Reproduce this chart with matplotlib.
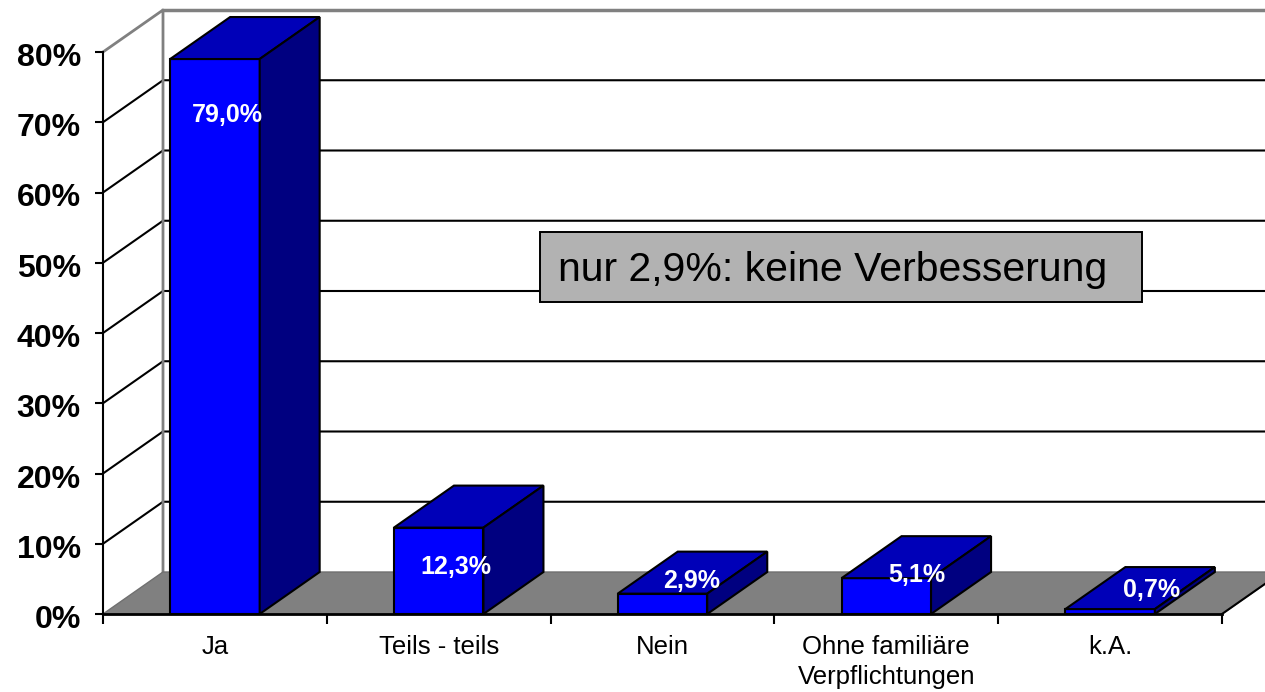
import matplotlib
matplotlib.use("Agg")
import matplotlib.pyplot as plt
from matplotlib.patches import Rectangle
from matplotlib.transforms import ScaledTranslation

plt.rcParams['font.family'] = ['Liberation Sans', 'DejaVu Sans']

# Daten
kategorien = ["Ja", "Teils - teils", "Nein", "Ohne familiäre\nVerpflichtungen", "k.A."]
werte = [79.0, 12.3, 2.9, 5.1, 0.7]
wert_texte = ["79,0%", "12,3%", "2,9%", "5,1%", "0,7%"]
y_ticks = [0, 10, 20, 30, 40, 50, 60, 70, 80]
y_tick_texte = ["0%", "10%", "20%", "30%", "40%", "50%", "60%", "70%", "80%"]
hinweis = "nur 2,9%: keine Verbesserung"

# Layout in Pixeln
W, H = 1265, 692
links, rechts, oben, unten = 103, 1222, 52, 614
tiefe_x_px, tiefe_y_px = 60, 42
label_versatz = [(12, -56), (17, -39), (29, 13), (31, 3), (41, 19)]

fig = plt.figure(figsize=(W / 100, H / 100), dpi=100)
ax = fig.add_axes([links / W, 1 - unten / H, (rechts - links) / W, (unten - oben) / H])
ax.set_xlim(0, len(kategorien))
ax.set_ylim(0, 80)

# Tiefe in Datenkoordinaten
dx = tiefe_x_px / (rechts - links) * len(kategorien)
dy = tiefe_y_px / (unten - oben) * 80

# Gitterlinien
for t in y_ticks[1:-1]:
    ax.plot([0, dx, 5 + dx], [t, t + dy, t + dy], color='black', lw=1.5, clip_on=False, zorder=1)

# Wand und Boden
ax.plot([0, dx, dx], [80, 80 + dy, dy], color='#808080', lw=2, clip_on=False, zorder=1.5)
ax.plot([dx, 5 + dx], [80 + dy, 80 + dy], color='#808080', lw=2.5, clip_on=False, zorder=1.5)
ax.fill([0, dx, 5 + dx, 5], [0, dy, dy, 0], facecolor='#808080', edgecolor='#707070', lw=1,
        clip_on=False, zorder=2)
ax.plot([5, 5 + dx], [0, dy], color='black', lw=1.5, clip_on=False, zorder=2.1)

# Balken
breite = 0.4
for i, w in enumerate(werte):
    mitte = i + 0.5
    l, r = mitte - breite / 2, mitte + breite / 2
    ax.bar(mitte, w, breite, color='#0000FF', edgecolor='black', lw=1.5, clip_on=False, zorder=3)
    ax.fill([l, l + dx, r + dx, r], [w, w + dy, w + dy, w], facecolor='#0000B8', edgecolor='black',
            lw=1.5, clip_on=False, zorder=3)
    ax.fill([r, r + dx, r + dx, r], [0, dy, w + dy, w], facecolor='#000080', edgecolor='black',
            lw=1.5, clip_on=False, zorder=3)
    ax.annotate(wert_texte[i], (mitte, w), xytext=(label_versatz[i][0] * 0.72, label_versatz[i][1] * 0.72),
                textcoords='offset points', ha='center', va='center', color='white',
                fontsize=18, fontweight='bold', zorder=5, annotation_clip=False)

# Achsen
for s in ['top', 'right']:
    ax.spines[s].set_visible(False)
ax.spines['left'].set_linewidth(1.5)
ax.spines['bottom'].set_linewidth(2)
ax.spines['left'].set_zorder(4)
ax.spines['bottom'].set_zorder(4)
ax.patch.set_visible(False)

ax.set_yticks(y_ticks)
ax.set_yticklabels(y_tick_texte, fontsize=23, fontweight='bold')
ax.set_xticks(range(len(kategorien) + 1))
ax.set_xticklabels([""] * (len(kategorien) + 1))
ax.tick_params(axis='y', length=6, width=1.5, pad=10)
ax.tick_params(axis='x', length=7, width=1.5)

# Beschriftung etwas tiefer setzen
runter = ScaledTranslation(0, -2.5 / 100, fig.dpi_scale_trans)
for lab in ax.get_yticklabels():
    lab.set_transform(lab.get_transform() + runter)

# Kategorien unter der Achse
for i, k in enumerate(kategorien):
    ax.annotate(k, (i + 0.5, 0), xytext=(0, -15), textcoords='offset points', ha='center', va='top',
                fontsize=18.5, linespacing=1.35, annotation_clip=False)

# Hinweisbox
ax.add_patch(Rectangle((540 / W, 1 - 302 / H), 602 / W, 70 / H, transform=fig.transFigure,
                       facecolor='#B2B2B2', edgecolor='black', lw=1.4, clip_on=False, zorder=6))
fig.text(558 / W, 1 - 270 / H, hinweis, fontsize=29.5, ha='left', va='center', zorder=7)

fig.savefig("out.png", dpi=100)
